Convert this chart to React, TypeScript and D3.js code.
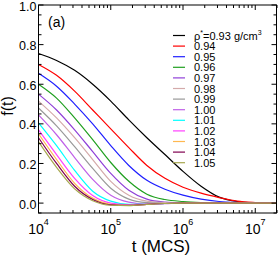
import React from "react";
import * as d3 from "d3";

const TIMES = [10000, 17783, 31623, 56234, 100000, 177828, 316228, 562341, 1000000, 1778279, 3162278, 5623413, 10000000, 19952623];

const F093 = [0.755, 0.72, 0.67, 0.6, 0.515, 0.42, 0.33, 0.245, 0.16, 0.085, 0.03, 0.008, 0.002, 0.0];
const F094 = [0.7, 0.645, 0.565, 0.47, 0.375, 0.28, 0.19, 0.125, 0.08, 0.05, 0.028, 0.01, 0.003, 0.0];
const F095 = [0.655, 0.59, 0.5, 0.4, 0.29, 0.19, 0.115, 0.07, 0.04, 0.02, 0.008, 0.003, 0.001, 0.0];
const F096 = [0.6, 0.53, 0.43, 0.32, 0.205, 0.11, 0.045, 0.018, 0.008, 0.003, 0.001, 0.0, 0.0, 0.0];
const F097 = [0.55, 0.47, 0.37, 0.26, 0.15, 0.065, 0.02, 0.005, 0.001, 0.0, 0.0, 0.0, 0.0, 0.0];
const F098 = [0.515, 0.43, 0.33, 0.22, 0.11, 0.04, 0.01, 0.002, 0.0, 0.0, 0.0, 0.0, 0.0, 0.0];
const F099 = [0.48, 0.39, 0.285, 0.175, 0.075, 0.02, 0.002, -0.002, 0.0, 0.0, 0.0, 0.0, 0.0, 0.0];
const F100 = [0.445, 0.345, 0.23, 0.12, 0.04, 0.005, -0.005, -0.003, 0.0, 0.0, 0.0, 0.0, 0.0, 0.0];
const F101 = [0.405, 0.29, 0.165, 0.06, 0.01, -0.006, -0.006, -0.002, 0.0, 0.0, 0.0, 0.0, 0.0, 0.0];
const F102 = [0.37, 0.245, 0.125, 0.038, 0.0, -0.009, -0.006, -0.002, 0.0, 0.0, 0.0, 0.0, 0.0, 0.0];
const F103 = [0.35, 0.22, 0.1, 0.025, -0.006, -0.011, -0.006, -0.002, 0.0, 0.0, 0.0, 0.0, 0.0, 0.0];
const F104 = [0.33, 0.2, 0.085, 0.018, -0.009, -0.012, -0.006, -0.002, 0.0, 0.0, 0.0, 0.0, 0.0, 0.0];
const F105 = [0.31, 0.18, 0.072, 0.012, -0.011, -0.013, -0.007, -0.002, 0.0, 0.0, 0.0, 0.0, 0.0, 0.0];

const DENSITIES = ["0.93", "0.94", "0.95", "0.96", "0.97", "0.98", "0.99", "1.00", "1.01", "1.02", "1.03", "1.04", "1.05"];
const SERIES = [F093, F094, F095, F096, F097, F098, F099, F100, F101, F102, F103, F104, F105];
const COLORS = ["#000000", "#ff0000", "#2020ff", "#20a020", "#9040d8", "#d4aaaa", "#999999", "#c060e8", "#00ffff", "#ff40ff", "#ffb850", "#800050", "#a8a850"];

const Y_TICKS = [0.0, 0.2, 0.4, 0.6, 0.8, 1.0];
const X_DECADES = [10000, 100000, 1000000, 10000000];
const X_EXPONENTS = ["4", "5", "6", "7"];

const W = 278;
const H = 256;
const L = 38.5;
const R = 276.5;
const T = 5;
const B = 213;

export default function App() {
  const x = d3.scaleLog().domain([1e4, 2e7]).range([L, 277]);
  const y = d3.scaleLinear().domain([-0.05, 1.0]).range([B, T]);

  const line = d3
    .line<[number, number]>()
    .x((d) => x(d[0]))
    .y((d) => y(d[1]))
    .curve(d3.curveMonotoneX);

  const minorY = d3.range(-0.05, 1.0001, 0.05).map((v) => +v.toFixed(2)).filter((v) => Math.abs(v * 5 - Math.round(v * 5)) > 1e-6);
  const minorX: number[] = [];
  for (let e = 4; e <= 7; e++) {
    for (let m = 2; m <= 9; m++) {
      const v = m * Math.pow(10, e);
      if (v <= 2e7) minorX.push(v);
    }
  }

  const font = "Liberation Sans, Arial, Helvetica, sans-serif";
  const legendY = (i: number) => 35.5 + 10.6 * i;

  return (
    <svg width={W} height={H} style={{ position: "absolute", left: 0, top: 0, background: "#fff" }} fontFamily={font}>
      <defs>
        <clipPath id="plotclip">
          <rect x={L} y={T} width={R - L} height={B - T} />
        </clipPath>
      </defs>
      <rect x={0} y={0} width={W} height={H} fill="#fff" />

      <g clipPath="url(#plotclip)">
        {SERIES.map((s, i) => (
          <path
            key={i}
            d={line(s.map((v, j) => [TIMES[j], v] as [number, number])) || ""}
            fill="none"
            stroke={COLORS[i]}
            strokeWidth={1.2}
          />
        ))}
      </g>

      {/* frame */}
      <rect x={L} y={T} width={R - L} height={B - T} fill="none" stroke="#000" strokeWidth={1} />

      {/* y ticks */}
      {Y_TICKS.map((v) => (
        <g key={"yt" + v}>
          <line x1={L} x2={L + 5} y1={y(v)} y2={y(v)} stroke="#000" />
          <line x1={R} x2={R - 5} y1={y(v)} y2={y(v)} stroke="#000" />
          <text x={L - 2} y={y(v) + 5.5} fontSize={12.5} textAnchor="end" fill="#000">
            {v.toFixed(1)}
          </text>
        </g>
      ))}
      {minorY.map((v) => (
        <g key={"ym" + v}>
          <line x1={L} x2={L + 3} y1={y(v)} y2={y(v)} stroke="#000" />
          <line x1={R} x2={R - 3} y1={y(v)} y2={y(v)} stroke="#000" />
        </g>
      ))}

      {/* x ticks */}
      {X_DECADES.map((v, i) => (
        <g key={"xt" + v}>
          <line x1={x(v)} x2={x(v)} y1={B} y2={B - 5} stroke="#000" />
          <line x1={x(v)} x2={x(v)} y1={T} y2={T + 5} stroke="#000" />
          <text x={x(v)} y={234} fontSize={14} textAnchor="middle" fill="#000">
            10
            <tspan dy={-9} fontSize={9}>
              {X_EXPONENTS[i]}
            </tspan>
          </text>
        </g>
      ))}
      {minorX.map((v) => (
        <g key={"xm" + v}>
          <line x1={x(v)} x2={x(v)} y1={B} y2={B - 3} stroke="#000" />
          <line x1={x(v)} x2={x(v)} y1={T} y2={T + 3} stroke="#000" />
        </g>
      ))}

      {/* axis labels */}
      <text x={161} y={252} fontSize={17} textAnchor="middle" fill="#000">
        t (MCS)
      </text>
      <text transform="translate(13,106) rotate(-90)" fontSize={16} textAnchor="middle" fill="#000">
        f(t)
      </text>

      <text x={48} y={27} fontSize={14} fill="#000">
        (a)
      </text>

      {/* legend */}
      {DENSITIES.map((d, i) => (
        <g key={"lg" + d}>
          <line x1={173} x2={185} y1={legendY(i)} y2={legendY(i)} stroke={COLORS[i]} strokeWidth={1.2} />
          {i === 0 ? (
            <text x={194} y={legendY(i) + 4} fontSize={11} fill="#000">
              ρ<tspan dy={-5} fontSize={7}>*</tspan>
              <tspan dy={5}>={d} g/cm</tspan>
              <tspan dy={-5} fontSize={7}>3</tspan>
            </text>
          ) : (
            <text x={194} y={legendY(i) + 4} fontSize={11} fill="#000">
              {d}
            </text>
          )}
        </g>
      ))}
    </svg>
  );
}
